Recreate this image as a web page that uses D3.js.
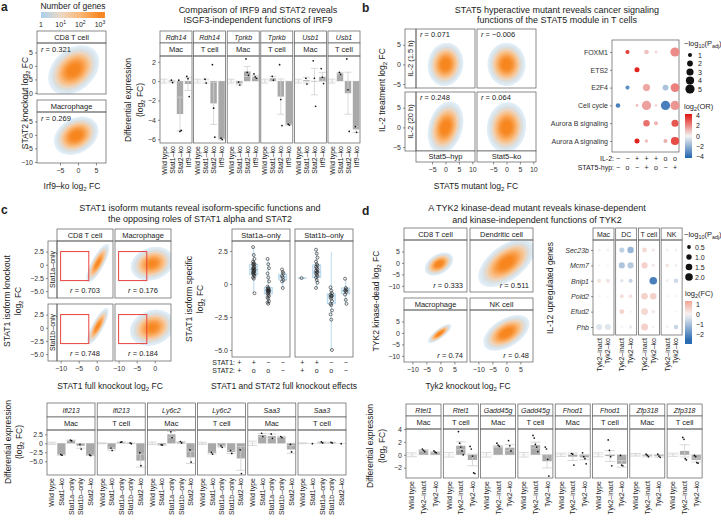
<!DOCTYPE html>
<html><head><meta charset="utf-8">
<script src="https://cdn.jsdelivr.net/npm/d3@7/dist/d3.min.js"></script>
<style>body{margin:0;background:#fff}svg{display:block}</style>
</head><body>
<script>
// ================= DATA =================
// --- panel a: density scatter facets
const aScatterCells = ["CD8 T cell", "Macrophage"];
const aScatterR = ["0.321", "0.269"];
const aCloudCx = [-1.2, -0.5], aCloudCy = [-1.5, -0.3], aCloudSx = [1.55, 1.35], aCloudSy = [2.0, 1.55], aCloudRho = [0.321, 0.269];
const aXTicks = [-5, 0, 5], aYTicks = [5, 0, -5, -10];
const densLegendTicks = [0, 1, 2, 3];
// --- panel a: bar facets
const aGenes = ["Rdh14", "Rdh14", "Tprkb", "Tprkb", "Usb1", "Usb1"];
const aCells = ["Mac", "T cell", "Mac", "T cell", "Mac", "T cell"];
const aGeno = ["Wild type", "Stat1–ko", "Stat2–ko", "Irf9–ko"];
const aMeans = [[0, -0.05, -3.4, -0.3], [0, 0.0, -2.3, -6.0], [0, -0.25, 1.0, 0.45], [0, 0.3, -1.6, -4.5], [0, 0.1, -0.05, 0.45], [0, 0.8, -1.25, -5.0]];
const aPts = [
  [[], [0.1, -0.15], [0.1, -5.2, -5.1], [0.5, 0.25, -1.6]],
  [[], [0.2, -0.2], [1.7, -2.8, -5.8], [-5.9, -6.05]],
  [[], [-0.1, -0.4], [2.3, 0.9, 0.6], [0.75, 0.45, 0.3]],
  [[], [0.5, 0.1], [1.7, -1.9, -4.6], [-4.45, -4.55]],
  [[], [0.3, -0.3], [2.1, 0.3, -2.6], [1.3, 0.4, -0.25]],
  [[], [0.9, 0.7], [2.3, -0.9, -5.2], [-4.7, -5.3]]];
const aWtErr = [0.2, 0.2, 0.2, 0.2, 0.2, 0.2];
const aBarTicks = [2, 0, -2, -4, -6];
// --- panel b: density scatter facets
const bRowStrips = ["IL-2 (1.5 h)", "IL-2 (20 h)"];
const bColStrips = ["Stat5–hyp", "Stat5–ko"];
const bR = [["0.071", "−0.006"], ["0.248", "0.064"]];
const bCloudSx = [[1.45, 1.55], [1.45, 1.6]], bCloudSy = [[1.2, 1.2], [1.45, 1.4]], bCloudRho = [[0.071, -0.006], [0.248, 0.064]];
// --- panel b: enrichment dot plot
const bRows = ["FOXM1", "ETS2", "E2F4", "Cell cycle", "Aurora B signaling", "Aurora A signaling"];
const bIL2 = ["−", "−", "+", "+", "+", "o", "o"];
const bSTAT5 = ["−", "o", "−", "+", "o", "−", "+"];
const bP = [
  [null, 1.0, null, 1.3, 0.6, null, 5.0],
  [null, null, 1.5, null, null, null, null],
  [null, 1.0, null, 3.0, null, 2.0, 4.5],
  [1.2, null, 0.5, 5.0, 0.5, 5.0, 5.0],
  [null, null, null, 2.5, 1.0, null, 3.0],
  [null, null, 1.5, 0.7, null, 1.0, 4.0]];
const bOR = [
  [null, 3.5, null, 1.0, 0.5, null, 2.0],
  [null, null, 4.0, null, null, null, null],
  [null, -3.0, null, 1.5, null, -1.5, 2.2],
  [-3.5, null, 1.0, 1.6, 0.5, -3.5, 1.8],
  [null, null, null, 2.5, 1.2, null, 3.0],
  [null, null, 4.0, 1.0, null, 1.3, 3.2]];
const bSizeLegend = [1, 2, 3, 4, 5];
const bColorLegend = [4, 2, 0, -2, -4];
// --- panel c: density scatter facets
const cColStrips = ["CD8 T cell", "Macrophage"];
const cRowStrips = ["Stat1a–only", "Stat1b–only"];
const cR = [["0.703", "0.176"], ["0.748", "0.184"]];
const cCloudCx = [[0.3, -0.7], [0.3, -0.7]], cCloudCy = [[0.3, 0.2], [0.3, 0.0]];
const cCloudSx = [[0.7, 1.3], [0.65, 1.35]], cCloudSy = [[0.8, 0.7], [0.75, 0.75]], cCloudRho = [[0.80, 0.18], [0.82, 0.18]];
const cRedBox = [-10, -2.2, -3, 2.5]; // x0, x1, y0, y1
// --- panel c: isoform-specific boxplots
const cmPanels = ["Stat1a–only", "Stat1b–only"];
const cmSTAT1 = ["+", "+", "−", "−"];
const cmSTAT2 = ["+", "o", "o", "−"];
const cmBox = [
  [null, [-0.7, 0.7, 1.1, 1.5, 2.8], [-1.5, -0.75, -0.5, -0.25, 1.9], [-0.3, 0.3, 0.55, 0.75, 1.1]],
  [[0.45, 0.45, 0.45, 0.45, 0.45], [-0.3, 0.5, 0.9, 1.45, 2.6], [-5.0, -1.5, -0.9, -0.75, 2.4], [-1.5, -0.75, -0.5, -0.3, 0.4]]];
const cmPts = [
  [[], [2.8, 2.2, 1.9, 1.7, 1.6, 1.5, 1.5, 1.4, 1.3, 1.2, 1.2, 1.1, 1.1, 1.0, 1.0, 0.9, 0.9, 0.8, 0.8, 0.7, 0.6, 0.5, 0.4, -0.7],
   [1.9, 1.5, 1.2, 0.8, 0.5, 0.2, -0.2, -0.3, -0.4, -0.4, -0.5, -0.5, -0.5, -0.6, -0.6, -0.7, -0.8, -0.9, -1.0, -1.1, -1.3, -1.4, -1.5],
   [1.1, 0.9, 0.8, 0.6, 0.5, 0.3, 0.2, -0.3]],
  [[0.45], [2.6, 2.3, 2.0, 1.7, 1.5, 1.4, 1.3, 1.2, 1.1, 1.0, 0.9, 0.9, 0.8, 0.7, 0.6, 0.5, 0.3, 0.1, -0.3],
   [-0.25, -0.5, -0.7, -0.8, -0.9, -0.9, -1.0, -1.1, -1.3, -1.5, -1.6, -2.0, -2.3, -2.7, -5.0],
   [0.4, -0.3, -0.4, -0.5, -0.5, -0.6, -0.8, -1.2, -1.5]]];
// --- panel c: bar facets
const cGenes = ["Ifi213", "Ifi213", "Ly6c2", "Ly6c2", "Saa3", "Saa3"];
const cCells = ["Mac", "T cell", "Mac", "T cell", "Mac", "T cell"];
const cGeno = ["Wild type", "Stat1–ko", "Stat1a–only", "Stat1b–only", "Stat2–ko"];
const cMeans = [[0, -3.2, 0.8, -0.7, -3.3], [0, -1.6, 0.3, 0.0, -4.8], [0, -0.45, 2.5, 0.3, -3.9], [0, -2.7, -0.85, -2.4, -4.2], [0, 2.3, 2.0, 1.8, -1.7], [0, -0.05, 0.25, 0.2, -0.05]];
const cPts = [
  [[], [-3.1, -3.3], [0.9, 0.7], [-0.3, -1.6], [-3.2, -3.4]],
  [[], [-1.3, -2.0], [0.3, 0.4], [0.1, -0.1], [-2.6, -6.2]],
  [[], [-0.4, -0.5], [3.2, 1.6], [0.5, 0.1], [-1.8, -5.2]],
  [[], [-2.5, -3.0], [-0.7, -1.1], [-2.0, -2.8], [-1.8, -8.4]],
  [[], [2.8, 1.9], [2.6, 1.4], [1.9, 1.6], [-0.3, -2.4]],
  [[], [-0.1], [0.4, 0.1], [0.3, 0.1], [-0.1]]];
const cWtErr = [0.3, 0.15, 0.35, 0.3, 0.6, 0.1];
const cBarTicks = [2.5, 0, -2.5, -5];
// --- panel d: density scatter facets
const dCellsSc = ["CD8 T cell", "Dendritic cell", "Macrophage", "NK cell"];
const dR = ["0.333", "0.511", "0.74", "0.48"];
const dCloudCx = [-0.5, 0, -0.3, 0], dCloudCy = [-0.5, 0, -0.3, 0];
const dCloudSx = [1.1, 2.2, 0.9, 1.8], dCloudSy = [1.1, 2.3, 0.9, 1.7], dCloudRho = [0.40, 0.55, 0.80, 0.5];
// --- panel d: dot plot
const dDotCells = ["Mac", "DC", "T cell", "NK"];
const dDotGeno = ["Tyk2–inact", "Tyk2–ko"];
const dDotGenes = ["Sec23b", "Mcm7", "Bnip1", "Pold2", "Efud2", "Phb"];
// columns: Mac-inact, Mac-ko, DC-inact, DC-ko, T-inact, T-ko, NK-inact, NK-ko
const dDotP = [
  [0.3, 0.3, 0.9, 1.4, 0.8, 0.4, 0.3, 0.3],
  [0.2, 0.2, 1.3, 1.3, 1.3, 0.4, 0.5, 0.3],
  [0.6, 0.6, 0.4, 0.6, null, 2.0, 0.3, 0.7],
  [0.2, 0.2, 0.5, 0.5, 1.5, 1.5, 0.2, 0.2],
  [0.1, 0.1, 0.8, 0.2, 1.6, 0.5, 0.1, 0.2],
  [1.2, 1.2, 0.3, 0.4, 1.7, 0.3, 0.3, 0.7]];
const dDotFC = [
  [0.1, 0.1, -0.7, -1.2, 0.5, 0.2, 0.1, 0.1],
  [0.0, 0.0, -0.9, -0.8, 0.6, 0.2, 0.3, 0.1],
  [0.3, 0.3, -0.3, -0.6, 0.0, -2.2, -0.1, -0.5],
  [0.0, 0.0, 0.4, 0.3, 0.6, 0.6, 0.0, 0.0],
  [0.0, 0.0, 0.6, 0.1, 0.5, 0.2, 0.0, 0.0],
  [-0.3, -0.3, 0.0, -0.2, 0.6, 0.1, 0.1, -0.6]];
const dSizeLegend = [0.5, 1.0, 1.5, 2.0];
const dColorLegend = [1, 0, -1, -2];
// --- panel d: bar facets
const dGenes = ["Rtel1", "Rtel1", "Gadd45g", "Gadd45g", "Fhod1", "Fhod1", "Zfp318", "Zfp318"];
const dCells = ["Mac", "T cell", "Mac", "T cell", "Mac", "T cell", "Mac", "T cell"];
const dGeno = ["Wild type", "Tyk2–inact", "Tyk2–ko"];
const dMeans = [[0, 0.7, 0.4], [0, 1.4, -0.8], [0, 1.3, 1.1], [0, 1.5, -1.0], [0, -0.3, -0.4], [0, -0.2, -1.4], [0, -0.2, -0.2], [0, 0.6, -0.8]];
const dPts = [
  [[], [0.9, 0.7, 0.5], [0.6, 0.4, 0.3]],
  [[], [3.6, 1.8, 1.2, 0.6, 0.0], [1.3, 0.9, -0.2, -2.8, -2.9]],
  [[], [1.8, 1.5, 1.3], [2.2, 1.4, 0.6]],
  [[], [3.0, 2.6, 1.6, 1.2, 0.5], [1.2, 0.9, -0.7, -3.3]],
  [[], [0.2, 0.1, -1.6], [0.3, -0.3, -0.6, -1.4]],
  [[], [2.3, 0.7, -0.3, -1.7], [-0.1, -1.6, -1.7]],
  [[], [0.1, -0.1, -0.3], [0.1, -0.2, -0.4]],
  [[], [2.7, 2.4, -0.6, -0.8], [-0.1, -0.3, -1.2, -1.3]]];
const dWtErr = [0.3, 0.35, 0.35, 0.35, 0.25, 0.3, 0.2, 0.25];
const dBarTicks = [4, 2, 0, -2];

// ================= HELPERS =================
const FONT = '"Liberation Sans", Arial, sans-serif';
const BC = "#5a5a5a", INK = "#222";
const svg = d3.select("body").append("svg").attr("width", 721).attr("height", 522).attr("font-family", FONT);
const defs = svg.append("defs");
const densColor = d3.scaleLinear().domain([0, 1, 2, 3]).range(["#a9d0ec", "#ecd9c6", "#fbb877", "#f7861f"]).clamp(true);
const fmtD = d3.format("d");
const fmt1 = d => d === 0 ? "0" : d3.format(".1f")(d);

function T(g, x, y, parts, o = {}) {
  const fs = o.fs || 7;
  const t = g.append("text").attr("x", x).attr("y", y).attr("font-size", fs)
    .attr("text-anchor", o.a || "start").attr("fill", o.fill || INK);
  if (o.rot) t.attr("transform", `rotate(${o.rot},${x},${y})`);
  if (o.bold) t.attr("font-weight", "bold");
  if (o.it) t.attr("font-style", "italic");
  (Array.isArray(parts) ? parts : [parts]).forEach(p => {
    if (typeof p === "string") { t.append("tspan").text(p); return; }
    const s = t.append("tspan").text(p.t);
    if (p.it) s.attr("font-style", "italic");
    if (p.sub) s.attr("font-size", fs * 0.72).attr("baseline-shift", `${-fs * 0.22}px`);
    if (p.sup) s.attr("font-size", fs * 0.72).attr("baseline-shift", `${fs * 0.38}px`);
  });
  return t;
}
function R(g, x, y, w, h, o = {}) {
  return g.append("rect").attr("x", x).attr("y", y).attr("width", w).attr("height", h)
    .attr("fill", o.fill || "none").attr("stroke", o.stroke === undefined ? BC : o.stroke).attr("stroke-width", o.sw || 0.7);
}
function strip(g, x, y, w, h, label, o = {}) {
  R(g, x, y, w, h, { fill: "#fff" });
  const fs = o.fs || 7.5;
  if (o.rot) T(g, x + w / 2 + fs * 0.36, y + h / 2, label, { a: "middle", rot: -90, fs, it: o.it });
  else T(g, x + w / 2, y + h / 2 + fs * 0.36, label, { a: "middle", fs, it: o.it });
}
function finish(a, fs) {
  a.attr("font-family", null).attr("font-size", fs);
  a.select(".domain").remove();
  a.selectAll("line").attr("stroke", "#444").attr("stroke-width", 0.6);
  a.selectAll("text").attr("fill", "#333");
  return a;
}
function axL(g, scale, x, ticks, fmt, fs = 7) {
  const a = g.append("g").attr("transform", `translate(${x},0)`)
    .call(d3.axisLeft(scale).tickValues(ticks).tickSize(2).tickPadding(2).tickFormat(fmt || fmtD));
  return finish(a, fs);
}
function axB(g, scale, y, ticks, fmt, fs = 7) {
  const a = g.append("g").attr("transform", `translate(0,${y})`)
    .call(d3.axisBottom(scale).tickValues(ticks).tickSize(2.5).tickPadding(3).tickFormat(fmt || fmtD));
  return finish(a, fs);
}
// density raster: each pixel's data coordinate comes from the panel scales
function drawCloud(g, xs, ys, p, peak) {
  const [xa, xb] = xs.range(), [ya, yb] = ys.range();
  const S = 2; // supersampling
  const W = Math.round((xb - xa) * S), H = Math.round((yb - ya) * S);
  const cv = document.createElement("canvas"); cv.width = W; cv.height = H;
  const ctx = cv.getContext("2d");
  const img = ctx.createImageData(W, H);
  for (let i = 0; i < W; i++) for (let j = 0; j < H; j++) {
    const u = (xs.invert(xa + (i + 0.5) / S) - p.cx) / p.sx;
    const v = (ys.invert(ya + (j + 0.5) / S) - p.cy) / p.sy;
    const q = (u * u - 2 * p.rho * u * v + v * v) / (1 - p.rho * p.rho);
    const n = peak * Math.exp(-q / 2) + 7 * Math.exp(-q / (2 * 2.3 * 2.3));
    if (n < 1) continue;
    const lv = Math.log10(n);
    const c = d3.rgb(densColor(lv));
    const k = (j * W + i) * 4;
    img.data[k] = c.r; img.data[k + 1] = c.g; img.data[k + 2] = c.b;
    img.data[k + 3] = Math.round(255 * Math.min(1, 0.3 + lv * 0.8));
  }
  ctx.putImageData(img, 0, 0);
  g.append("image").attr("x", xa).attr("y", ya).attr("width", xb - xa).attr("height", yb - ya)
    .attr("preserveAspectRatio", "none").attr("href", cv.toDataURL());
}
function scatterPanel(g, x0, y0, w, h, xd, yd, cloud, peak) {
  const xs = d3.scaleLinear().domain(xd).range([x0, x0 + w]);
  const ys = d3.scaleLinear().domain(yd).range([y0, y0 + h]);
  drawCloud(g, xs, ys, cloud, peak || 1500);
  R(g, x0, y0, w, h);
  return { xs, ys };
}
function rLabel(g, x, y, val, anchor) {
  T(g, x, y, [{ t: "r", it: true }, " = " + val], { fs: 7.5, a: anchor || "start" });
}
function barFacet(g, x0, stripTop, w, gene, cell, geno, means, pts, wtErr, ys, o) {
  strip(g, x0, stripTop, w, o.geneH, gene, { it: true, fs: 7 });
  strip(g, x0, stripTop + o.geneH, w, o.cellH, cell, { fs: 7.5 });
  const [yt, yb] = ys.range();
  const xb = d3.scaleBand().domain(geno).range([x0, x0 + w]).paddingInner(o.pad).paddingOuter(o.pad / 2);
  const bw = xb.bandwidth();
  g.append("line").attr("x1", x0).attr("x2", x0 + w).attr("y1", ys(0)).attr("y2", ys(0)).attr("stroke", "#e0e0e0").attr("stroke-width", 0.6);
  geno.forEach((gt, k) => {
    const m = means[k], cx = xb(gt) + bw / 2;
    g.append("rect").attr("x", xb(gt)).attr("width", bw).attr("y", ys(Math.max(0, m))).attr("height", Math.abs(ys(m) - ys(0)))
      .attr("fill", "#a9a9a9");
    let lo, hi;
    const p = pts[k];
    if (p.length >= 2) { const se = d3.deviation(p) / Math.sqrt(p.length); lo = m - se; hi = m + se; }
    else if (k === 0) { lo = -wtErr; hi = wtErr; }
    if (lo !== undefined) {
      const ec = "#cfcfcf", cw = bw * 0.55;
      g.append("line").attr("x1", cx).attr("x2", cx).attr("y1", ys(lo)).attr("y2", ys(hi)).attr("stroke", ec).attr("stroke-width", 0.8);
      [lo, hi].forEach(v => g.append("line").attr("x1", cx - cw).attr("x2", cx + cw).attr("y1", ys(v)).attr("y2", ys(v)).attr("stroke", ec).attr("stroke-width", 0.8));
    }
    p.forEach((v, i) => g.append("circle").attr("cx", cx + (i - (p.length - 1) / 2) * 1.2).attr("cy", ys(v)).attr("r", 0.85).attr("fill", "#111"));
    T(g, cx + 7 * 0.36, yb + 3, gt, { rot: -90, a: "end", fs: 7 });
  });
  R(g, x0, yt, w, yb - yt);
  if (o.ticks) axL(g, ys, x0, o.ticks, o.fmt);
}

// ================= PANEL a =================
const gA = svg.append("g");
T(gA, 1, 11, "a", { fs: 12, bold: true });
T(gA, 73, 9, "Number of genes", { a: "middle", fs: 8.5 });
const legX = d3.scaleLinear().domain([0, 3]).range([41, 100]);
const lgA = defs.append("linearGradient").attr("id", "gDens");
d3.range(0, 1.0001, 0.1).forEach(t => lgA.append("stop").attr("offset", t).attr("stop-color", densColor(t * 3.25)));
gA.append("rect").attr("x", legX(0)).attr("y", 12).attr("width", legX(3.25) - legX(0)).attr("height", 6).attr("fill", "url(#gDens)");
densLegendTicks.forEach(d => T(gA, legX(d), 27, d === 0 ? "1" : ["10", { t: String(d), sup: true }], { a: "middle", fs: 7 }));
aScatterCells.forEach((cell, i) => {
  const st = [31, 100][i];
  strip(gA, 37, st, 69, 12, cell);
  const { xs, ys } = scatterPanel(gA, 37, st + 12, 69, 51, [-11.4, 7.8], [8.5, -10.4],
    { cx: aCloudCx[i], cy: aCloudCy[i], sx: aCloudSx[i], sy: aCloudSy[i], rho: aCloudRho[i] });
  axL(gA, ys, 37, aYTicks);
  rLabel(gA, 41, st + 21, aScatterR[i]);
  if (i === 1) axB(gA, xs, st + 63, aXTicks);
});
T(gA, 28, 103, ["STAT2 knockout log", { t: "2", sub: true }, " FC"], { rot: -90, a: "middle", fs: 8.5 });
T(gA, 72, 189, ["Irf9–ko log", { t: "2", sub: true }, " FC"], { a: "middle", fs: 8.5 });

// bars a
const gAB = svg.append("g");
T(gAB, 258, 13, "Comparison of IRF9 and STAT2 reveals", { a: "middle", fs: 9 });
T(gAB, 258, 23, "ISGF3-independent functions of IRF9", { a: "middle", fs: 9 });
const abY = d3.scaleLinear().domain([2.6, -6.4]).range([56, 143]);
aGenes.forEach((gene, i) => barFacet(gAB, 160 + i * 33.6, 31, 32, gene, aCells[i], aGeno, aMeans[i], aPts[i], aWtErr[i], abY,
  { geneH: 12, cellH: 13, pad: 0.2, ticks: i === 0 ? aBarTicks : null }));
T(gAB, 131, 100, "Differential expression", { rot: -90, a: "middle", fs: 8.5 });
T(gAB, 143, 100, ["(log", { t: "2", sub: true }, " FC)"], { rot: -90, a: "middle", fs: 8.5 });

// ================= PANEL b =================
const gB = svg.append("g");
T(gB, 362, 12, "b", { fs: 12, bold: true });
T(gB, 557, 13, "STAT5 hyperactive mutant reveals cancer signaling", { a: "middle", fs: 9 });
T(gB, 557, 23, "functions of the STAT5 module in T cells", { a: "middle", fs: 9 });
const bPX = [416, 477], bPY = [29, 92], bPW = 59, bPH = 59;
bRowStrips.forEach((rs, r) => {
  strip(gB, 405, bPY[r], 11, bPH, rs, { rot: true, fs: 7.5 });
  bColStrips.forEach((cs, c) => {
    const { xs, ys } = scatterPanel(gB, bPX[c], bPY[r], bPW, bPH, [-11, 11], [9, -6],
      { cx: 0, cy: 0, sx: bCloudSx[r][c], sy: bCloudSy[r][c], rho: bCloudRho[r][c] });
    if (c === 0) axL(gB, ys, 405, [5, 0, -5]);
    rLabel(gB, bPX[c] + 4, bPY[r] + 8, bR[r][c]);
    if (r === 1) {
      strip(gB, bPX[c], bPY[1] + bPH, bPW, 11, cs);
      axB(gB, xs, bPY[1] + bPH + 11, [-5, 0, 5, 10]);
    }
  });
});
T(gB, 385, 90, ["IL-2 treatment log", { t: "2", sub: true }, " FC"], { rot: -90, a: "middle", fs: 8.5 });
T(gB, 476, 189, ["STAT5 mutant log", { t: "2", sub: true }, " FC"], { a: "middle", fs: 8.5 });

// dot plot b
const bx = d3.scalePoint().domain(d3.range(7)).range([618, 675]);
const by = d3.scalePoint().domain(bRows).range([52, 141]);
const bSize = d3.scaleSqrt().domain([0, 5]).range([0, 4.6]);
const bCol = d3.scaleLinear().domain([-4, 0, 4]).range(["#2f6db3", "#f4f4f4", "#e2231c"]);
R(gB, 612, 40, 67, 112);
axL(gB, by, 612, bRows, d => d, 7);
bRows.forEach((row, r) => bP[r].forEach((p, c) => {
  if (p === null) return;
  gB.append("circle").attr("cx", bx(c)).attr("cy", by(row)).attr("r", bSize(p)).attr("fill", bCol(bOR[r][c]));
}));
T(gB, 614, 161, "IL-2:", { a: "end", fs: 7 });
T(gB, 614, 170, "STAT5-hyp:", { a: "end", fs: 7 });
bIL2.forEach((s, c) => T(gB, bx(c), 161, s, { a: "middle", fs: 7 }));
bSTAT5.forEach((s, c) => T(gB, bx(c), 170, s, { a: "middle", fs: 7 }));
T(gB, 684, 46, ["−log", { t: "10", sub: true }, "(P", { t: "adj", sub: true }, ")"], { fs: 7.5 });
const bLegY = d3.scalePoint().domain(bSizeLegend).range([55, 89]);
bSizeLegend.forEach(v => {
  gB.append("circle").attr("cx", 690).attr("cy", bLegY(v)).attr("r", bSize(v)).attr("fill", "#111");
  T(gB, 698, bLegY(v) + 2.5, String(v), { fs: 7 });
});
T(gB, 684, 109, ["log", { t: "2", sub: true }, "(OR)"], { fs: 7.5 });
const bCbY = d3.scaleLinear().domain([4.3, -4.3]).range([114, 158]);
const lgB = defs.append("linearGradient").attr("id", "gOR").attr("x1", 0).attr("x2", 0).attr("y1", 0).attr("y2", 1);
d3.range(0, 1.0001, 0.1).forEach(t => lgB.append("stop").attr("offset", t).attr("stop-color", bCol(bCbY.invert(114 + t * 44))));
gB.append("rect").attr("x", 685).attr("y", 114).attr("width", 7).attr("height", 44).attr("fill", "url(#gOR)");
bColorLegend.forEach(v => T(gB, 696, bCbY(v) + 2.5, fmtD(v), { fs: 7 }));

// ================= PANEL c =================
const gC = svg.append("g");
T(gC, 1, 214, "c", { fs: 12, bold: true });
T(gC, 200, 211, "STAT1 isoform mutants reveal isoform-specific functions and", { a: "middle", fs: 9 });
T(gC, 200, 222, "the opposing roles of STAT1 alpha and STAT2", { a: "middle", fs: 9 });
const cPX = [57, 115], cPY = [241, 304], cPW = 56, cPH = 57;
cColStrips.forEach((cs, c) => strip(gC, cPX[c], 229, cPW, 12, cs));
cRowStrips.forEach((rs, r) => {
  strip(gC, 48, cPY[r], 9, cPH, rs, { rot: true, fs: 7 });
  cColStrips.forEach((cs, c) => {
    const { xs, ys } = scatterPanel(gC, cPX[c], cPY[r], cPW, cPH, [-11, 4.5], [4.5, -6.3],
      { cx: cCloudCx[r][c], cy: cCloudCy[r][c], sx: cCloudSx[r][c], sy: cCloudSy[r][c], rho: cCloudRho[r][c] }, 1000);
    gC.append("rect").attr("x", xs(cRedBox[0])).attr("y", ys(cRedBox[3])).attr("width", xs(cRedBox[1]) - xs(cRedBox[0]))
      .attr("height", ys(cRedBox[2]) - ys(cRedBox[3])).attr("fill", "none").attr("stroke", "#e8433d").attr("stroke-width", 1);
    if (c === 0) axL(gC, ys, 48, [2.5, 0, -2.5, -5], fmt1);
    rLabel(gC, cPX[c] + cPW / 2, cPY[r] + cPH - 5, cR[r][c], "middle");
    if (r === 1) axB(gC, xs, cPY[1] + cPH, [-10, -5, 0]);
  });
});
T(gC, 10, 301, "STAT1 isoform knockout", { rot: -90, a: "middle", fs: 8.5 });
T(gC, 21, 301, ["log", { t: "2", sub: true }, " FC"], { rot: -90, a: "middle", fs: 8.5 });
T(gC, 110, 389, ["STAT1 full knockout log", { t: "2", sub: true }, " FC"], { a: "middle", fs: 8.5 });

// boxplots c middle
const cmY = d3.scaleLinear().domain([3.26, -5.53]).range([241, 357]);
const cmX0 = [232, 295], cmW = 58;
cmPanels.forEach((pn, pi) => {
  const x0 = cmX0[pi];
  strip(gC, x0, 229, cmW, 12, pn);
  const xb = d3.scaleBand().domain(d3.range(4)).range([x0, x0 + cmW]);
  cmBox[pi].forEach((b, k) => {
    if (!b) return;
    const cx = xb(k) + xb.bandwidth() / 2, bw = 8;
    const bc = "#a6cfe6";
    gC.append("line").attr("x1", cx).attr("x2", cx).attr("y1", cmY(b[0])).attr("y2", cmY(b[4])).attr("stroke", bc).attr("stroke-width", 0.8);
    gC.append("rect").attr("x", cx - bw / 2).attr("width", bw).attr("y", cmY(b[3])).attr("height", Math.max(0.01, cmY(b[1]) - cmY(b[3])))
      .attr("fill", "#e4f0f8").attr("stroke", bc).attr("stroke-width", 0.8);
    gC.append("line").attr("x1", cx - bw / 2).attr("x2", cx + bw / 2).attr("y1", cmY(b[2])).attr("y2", cmY(b[2])).attr("stroke", bc).attr("stroke-width", 0.9);
  });
  cmPts[pi].forEach((arr, k) => {
    const cx = xb(k) + xb.bandwidth() / 2;
    arr.forEach((v, i) => gC.append("circle").attr("cx", cx + ((i % 3) - 1) * 0.7).attr("cy", cmY(v)).attr("r", 1.5)
      .attr("fill", "none").attr("stroke", "#222").attr("stroke-width", 0.6));
  });
  R(gC, x0, 241, cmW, 116);
  if (pi === 0) axL(gC, cmY, x0, [2.5, 0, -2.5, -5], fmt1);
  d3.range(4).forEach(k => {
    const cx = xb(k) + xb.bandwidth() / 2;
    T(gC, cx, 365, cmSTAT1[k], { a: "middle", fs: 7 });
    T(gC, cx, 373, cmSTAT2[k], { a: "middle", fs: 7 });
  });
});
T(gC, 235, 365, "STAT1:", { a: "end", fs: 7 });
T(gC, 235, 373, "STAT2:", { a: "end", fs: 7 });
T(gC, 192, 299, "STAT1 isoform specific", { rot: -90, a: "middle", fs: 8.5 });
T(gC, 203, 299, ["log", { t: "2", sub: true }, " FC"], { rot: -90, a: "middle", fs: 8.5 });
T(gC, 284, 389, "STAT1 and STAT2 full knockout effects", { a: "middle", fs: 8.5 });

// bars c
const cbY = d3.scaleLinear().domain([3.7, -8.8]).range([430, 475]);
cGenes.forEach((gene, i) => barFacet(gC, 47 + i * 50.2, 403, 48, gene, cCells[i], cGeno, cMeans[i], cPts[i], cWtErr[i], cbY,
  { geneH: 14, cellH: 13, pad: 0.15, ticks: i === 0 ? cBarTicks : null, fmt: fmt1 }));
T(gC, 11, 442, "Differential expression", { rot: -90, a: "middle", fs: 8.5 });
T(gC, 22, 442, ["(log", { t: "2", sub: true }, " FC)"], { rot: -90, a: "middle", fs: 8.5 });

// ================= PANEL d =================
const gD = svg.append("g");
T(gD, 362, 215, "d", { fs: 12, bold: true });
T(gD, 537, 211, "A TYK2 kinase-dead mutant reveals kinase-dependent", { a: "middle", fs: 9 });
T(gD, 537, 223, "and kinase-independent functions of TYK2", { a: "middle", fs: 9 });
const dPX = [404, 470], dPY = [240, 310], dPW = 63, dPH = 52;
dCellsSc.forEach((cell, i) => {
  const r = Math.floor(i / 2), c = i % 2;
  strip(gD, dPX[c], dPY[r] - 12, dPW, 12, cell);
  const { xs, ys } = scatterPanel(gD, dPX[c], dPY[r], dPW, dPH, [-13, 9.5], [10, -12.7],
    { cx: dCloudCx[i], cy: dCloudCy[i], sx: dCloudSx[i], sy: dCloudSy[i], rho: dCloudRho[i] });
  if (c === 0) axL(gD, ys, dPX[0], [5, 0, -5, -10]);
  rLabel(gD, dPX[c] + dPW - 4, dPY[r] + dPH - 4, dR[i], "end");
  if (r === 1) axB(gD, xs, dPY[1] + dPH, [-10, -5, 0, 5]);
});
T(gD, 379, 301, ["TYK2 kinase-dead log", { t: "2", sub: true }, " FC"], { rot: -90, a: "middle", fs: 8.5 });
T(gD, 468, 389, ["Tyk2 knockout log", { t: "2", sub: true }, " FC"], { a: "middle", fs: 8.5 });

// dot plot d
const dy = d3.scalePoint().domain(dDotGenes).range([250, 327]);
const dSize = d3.scaleSqrt().domain([0, 2]).range([0, 3.8]);
const dCol = d3.scaleLinear().domain([-2.6, 0, 1.4]).range(["#2a6bb1", "#f5f5f5", "#f2a493"]).clamp(true);
dDotCells.forEach((cell, pi) => {
  const x0 = 593 + pi * 22.7, w = 21;
  strip(gD, x0, 228, w, 12, cell, { fs: 7 });
  const xp = d3.scalePoint().domain(dDotGeno).range([x0, x0 + w]).padding(0.7);
  dDotGenes.forEach((gname, r) => dDotGeno.forEach((gt, k) => {
    const p = dDotP[r][pi * 2 + k];
    if (p === null) return;
    gD.append("circle").attr("cx", xp(gt)).attr("cy", dy(gname)).attr("r", dSize(p)).attr("fill", dCol(dDotFC[r][pi * 2 + k]));
  }));
  R(gD, x0, 240, w, 95);
  dDotGeno.forEach(gt => T(gD, xp(gt) + 7 * 0.36, 338, gt, { rot: -90, a: "end", fs: 7 }));
  if (pi === 0) axL(gD, dy, x0, dDotGenes, d => d, 7).selectAll("text").attr("font-style", "italic");
});
T(gD, 553, 288, "IL-12 upregulated genes", { rot: -90, a: "middle", fs: 8.5 });
T(gD, 684, 237, ["−log", { t: "10", sub: true }, "(P", { t: "adj", sub: true }, ")"], { fs: 7.5 });
const dLegY = d3.scalePoint().domain(dSizeLegend).range([247, 277]);
dSizeLegend.forEach(v => {
  gD.append("circle").attr("cx", 689).attr("cy", dLegY(v)).attr("r", dSize(v)).attr("fill", "#111");
  T(gD, 695, dLegY(v) + 2.5, d3.format(".1f")(v), { fs: 7 });
});
T(gD, 685, 296, ["log", { t: "2", sub: true }, "(FC)"], { fs: 7.5 });
const dCbY = d3.scaleLinear().domain([1.4, -3.0]).range([301, 344]);
const lgD = defs.append("linearGradient").attr("id", "gFC").attr("x1", 0).attr("x2", 0).attr("y1", 0).attr("y2", 1);
d3.range(0, 1.0001, 0.1).forEach(t => lgD.append("stop").attr("offset", t).attr("stop-color", dCol(dCbY.invert(301 + t * 43))));
gD.append("rect").attr("x", 685).attr("y", 301).attr("width", 7).attr("height", 43).attr("fill", "url(#gFC)");
dColorLegend.forEach(v => T(gD, 696, dCbY(v) + 2.5, fmtD(v), { fs: 7 }));

// bars d
const dbY = d3.scaleLinear().domain([4.0, -3.6]).range([429, 478]);
dGenes.forEach((gene, i) => barFacet(gD, 406 + i * 37.3, 404, 35, gene, dCells[i], dGeno, dMeans[i], dPts[i], dWtErr[i], dbY,
  { geneH: 12, cellH: 13, pad: 0.2, ticks: i === 0 ? dBarTicks : null }));
T(gD, 373, 446, "Differential expression", { rot: -90, a: "middle", fs: 8.5 });
T(gD, 385, 446, ["(log", { t: "2", sub: true }, " FC)"], { rot: -90, a: "middle", fs: 8.5 });
</script>
</body></html>
